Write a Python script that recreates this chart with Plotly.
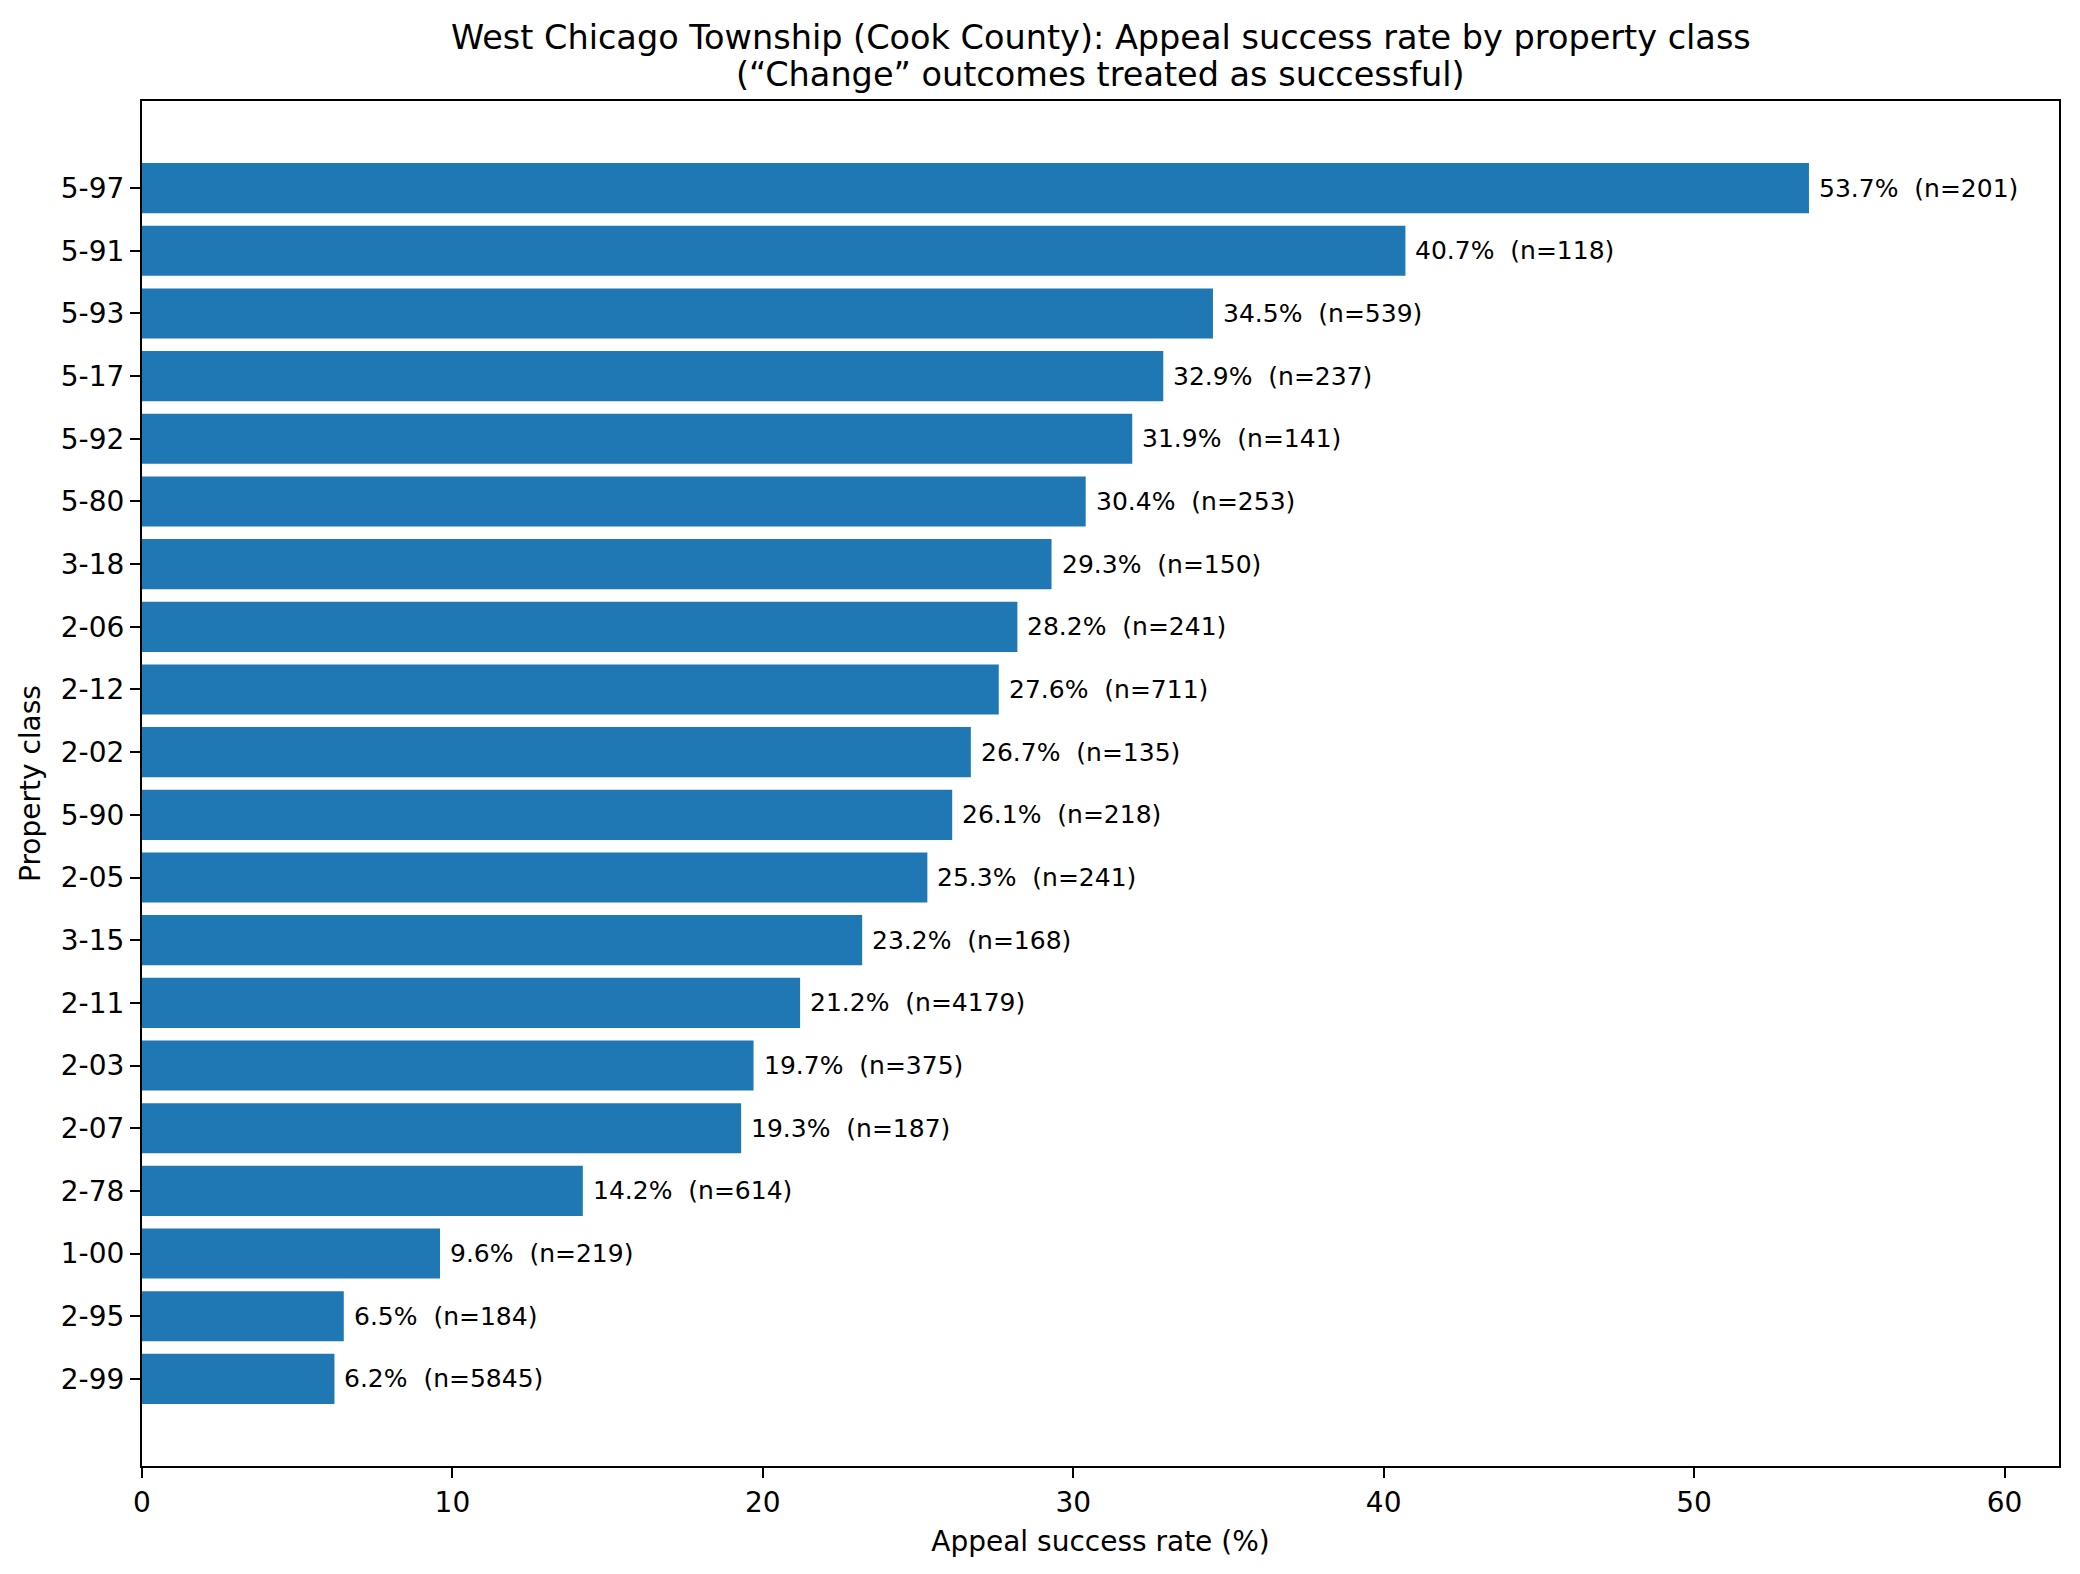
import plotly.graph_objects as go

classes = ["5-97", "5-91", "5-93", "5-17", "5-92", "5-80", "3-18", "2-06", "2-12", "2-02",
           "5-90", "2-05", "3-15", "2-11", "2-03", "2-07", "2-78", "1-00", "2-95", "2-99"]
rates = [53.7, 40.7, 34.5, 32.9, 31.9, 30.4, 29.3, 28.2, 27.6, 26.7,
         26.1, 25.3, 23.2, 21.2, 19.7, 19.3, 14.2, 9.6, 6.5, 6.2]
counts = [201, 118, 539, 237, 141, 253, 150, 241, 711, 135,
          218, 241, 168, 4179, 375, 187, 614, 219, 184, 5845]
x_ticks = [0, 10, 20, 30, 40, 50, 60]

title_line1 = "West Chicago Township (Cook County): Appeal success rate by property class"
title_line2 = "(\u201cChange\u201d outcomes treated as successful)"

# plot bottom-to-top so first item is at top
cls_r = classes[::-1]
rates_r = rates[::-1]
counts_r = counts[::-1]

FONT = "DejaVu Sans"
BLUE = "#1f77b4"

fig = go.Figure()
fig.add_trace(go.Bar(
    x=rates_r, y=cls_r, orientation="h",
    marker=dict(color=BLUE, line=dict(width=0)),
    width=0.8, hoverinfo="skip",
))

annotations = []
for c, r, n in zip(cls_r, rates_r, counts_r):
    annotations.append(dict(
        x=r, y=c, xref="x", yref="y",
        text=f"{r:.1f}%  (n={n})", showarrow=False,
        xanchor="left", yanchor="middle", xshift=8,
        font=dict(family=FONT, size=25, color="black"),
    ))
for txt, shift in [(title_line1, 64), (title_line2, 27)]:
    annotations.append(dict(
        x=0.5, y=1, xref="paper", yref="paper", text=txt,
        showarrow=False, xanchor="center", yanchor="middle", yshift=shift,
        font=dict(family=FONT, size=33.5, color="black"),
    ))

xmax = max(rates) * 1.15
n = len(classes)
fig.update_layout(
    width=2072, height=1566,
    margin=dict(l=134, r=21, t=93, b=108),
    paper_bgcolor="white", plot_bgcolor="white",
    showlegend=False,
    annotations=annotations,
    font=dict(family=FONT, size=28, color="black"),
    xaxis=dict(
        range=[0, xmax], tickvals=x_ticks, ticks="outside", ticklen=10, tickwidth=2.2,
        tickcolor="black", showline=True, linecolor="black", linewidth=2.2, mirror=True,
        showgrid=False, zeroline=False,
        tickfont=dict(family=FONT, size=28, color="black"),
        title=dict(text="Appeal success rate (%)", font=dict(family=FONT, size=28, color="black"), standoff=14),
    ),
    yaxis=dict(
        type="category", categoryorder="array", categoryarray=cls_r,
        range=[-1.39, n - 1 + 1.39], ticks="outside", ticklen=10, tickwidth=2.2,
        tickcolor="black", showline=True, linecolor="black", linewidth=2.2, mirror=True,
        showgrid=False, zeroline=False,
        tickfont=dict(family=FONT, size=28, color="black"),
        title=dict(text="Property class", font=dict(family=FONT, size=28, color="black"), standoff=12),
    ),
)

fig.write_html("out.html")
